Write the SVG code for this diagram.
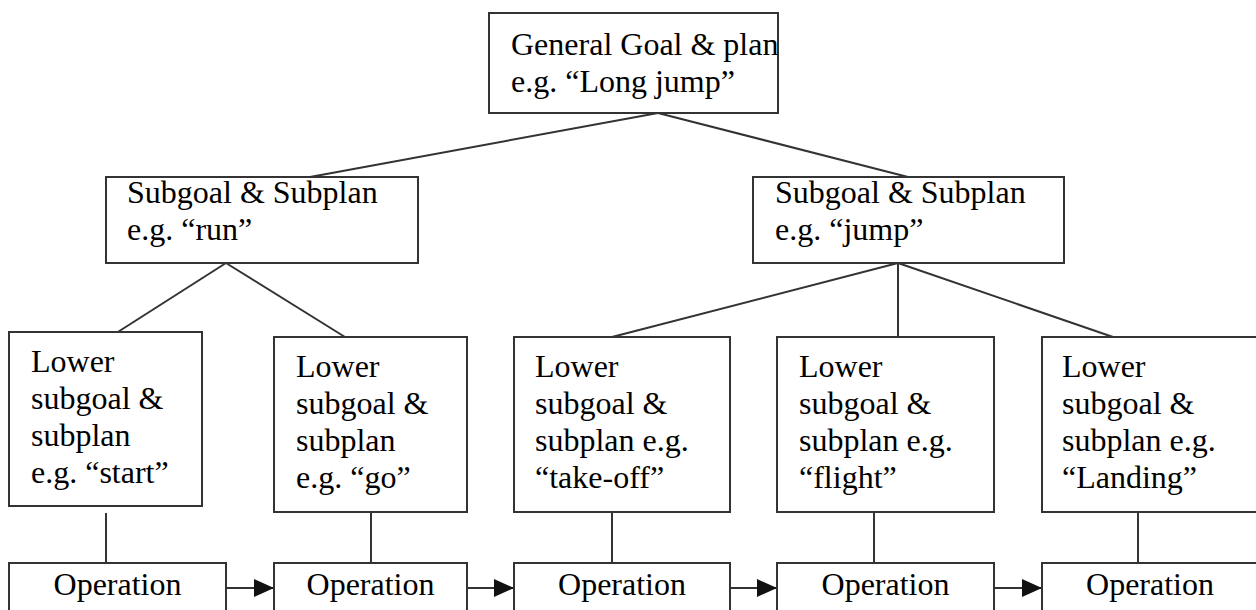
<svg xmlns="http://www.w3.org/2000/svg" width="1256" height="610" viewBox="0 0 1256 610">
  <style>
    .box { fill: #ffffff; stroke: #333333; stroke-width: 2; }
    .link { stroke: #333333; stroke-width: 2; fill: none; }
    .flow { stroke: #333333; stroke-width: 2; fill: none; marker-end: url(#head); }
    text { font-family: "Liberation Serif", "Times New Roman", serif; font-size: 32px; fill: #000000; }
    .mid { text-anchor: middle; }
  </style>
  <defs>
    <marker id="head" markerUnits="userSpaceOnUse" markerWidth="20" markerHeight="18" refX="20" refY="9" orient="auto">
      <path d="M0,0 L20,9 L0,18 Z" fill="#111111"/>
    </marker>
  </defs>
  <rect width="1256" height="610" fill="#ffffff"/>

  <!-- tree links and operation sequence -->
  <g id="connectors">
    <line class="link" x1="658" y1="113" x2="310" y2="177"/>
    <line class="link" x1="658" y1="113" x2="908" y2="177"/>
    <line class="link" x1="226" y1="263" x2="110" y2="337"/>
    <line class="link" x1="226" y1="263" x2="345" y2="337"/>
    <line class="link" x1="898" y1="263" x2="612" y2="337"/>
    <line class="link" x1="898" y1="263" x2="898" y2="337"/>
    <line class="link" x1="898" y1="263" x2="1113" y2="337"/>
    <line class="link" x1="106" y1="513" x2="106" y2="563"/>
    <line class="link" x1="371" y1="512" x2="371" y2="563"/>
    <line class="link" x1="612" y1="512" x2="612" y2="563"/>
    <line class="link" x1="874" y1="512" x2="874" y2="563"/>
    <line class="link" x1="1138" y1="512" x2="1138" y2="563"/>
    <line class="flow" x1="226" y1="588" x2="274" y2="588"/>
    <line class="flow" x1="467" y1="588" x2="514" y2="588"/>
    <line class="flow" x1="730" y1="588" x2="777" y2="588"/>
    <line class="flow" x1="994" y1="588" x2="1042" y2="588"/>
  </g>

  <g id="goal">
    <rect class="box" x="489" y="13" width="289" height="100"/>
    <text x="511" y="55">General Goal &amp; plan</text>
    <text x="511" y="92">e.g. “Long jump”</text>
  </g>

  <g id="subgoal-run">
    <rect class="box" x="106" y="177" width="312" height="86"/>
    <text x="127" y="203">Subgoal &amp; Subplan</text>
    <text x="127" y="240">e.g. “run”</text>
  </g>

  <g id="subgoal-jump">
    <rect class="box" x="753" y="177" width="311" height="86"/>
    <text x="775" y="203">Subgoal &amp; Subplan</text>
    <text x="775" y="240">e.g. “jump”</text>
  </g>

  <g id="lower-start">
    <rect class="box" x="9" y="332" width="193" height="174"/>
    <text x="31" y="372">Lower</text>
    <text x="31" y="409">subgoal &amp;</text>
    <text x="31" y="446">subplan</text>
    <text x="31" y="483">e.g. “start”</text>
  </g>

  <g id="lower-go">
    <rect class="box" x="274" y="337" width="193" height="175"/>
    <text x="296" y="377">Lower</text>
    <text x="296" y="414">subgoal &amp;</text>
    <text x="296" y="451">subplan</text>
    <text x="296" y="488">e.g. “go”</text>
  </g>

  <g id="lower-takeoff">
    <rect class="box" x="514" y="337" width="216" height="175"/>
    <text x="535" y="377">Lower</text>
    <text x="535" y="414">subgoal &amp;</text>
    <text x="535" y="451">subplan e.g.</text>
    <text x="535" y="488">“take-off”</text>
  </g>

  <g id="lower-flight">
    <rect class="box" x="777" y="337" width="217" height="175"/>
    <text x="799" y="377">Lower</text>
    <text x="799" y="414">subgoal &amp;</text>
    <text x="799" y="451">subplan e.g.</text>
    <text x="799" y="488">“flight”</text>
  </g>

  <g id="lower-landing">
    <rect class="box" x="1042" y="337" width="216" height="175"/>
    <text x="1062" y="377">Lower</text>
    <text x="1062" y="414">subgoal &amp;</text>
    <text x="1062" y="451">subplan e.g.</text>
    <text x="1062" y="488">“Landing”</text>
  </g>

  <g id="operation-1">
    <rect class="box" x="9" y="563" width="217" height="60"/>
    <text class="mid" x="117.5" y="595">Operation</text>
  </g>
  <g id="operation-2">
    <rect class="box" x="274" y="563" width="193" height="60"/>
    <text class="mid" x="370.5" y="595">Operation</text>
  </g>
  <g id="operation-3">
    <rect class="box" x="514" y="563" width="216" height="60"/>
    <text class="mid" x="622" y="595">Operation</text>
  </g>
  <g id="operation-4">
    <rect class="box" x="777" y="563" width="217" height="60"/>
    <text class="mid" x="885.5" y="595">Operation</text>
  </g>
  <g id="operation-5">
    <rect class="box" x="1042" y="563" width="216" height="60"/>
    <text class="mid" x="1150" y="595">Operation</text>
  </g>
</svg>
